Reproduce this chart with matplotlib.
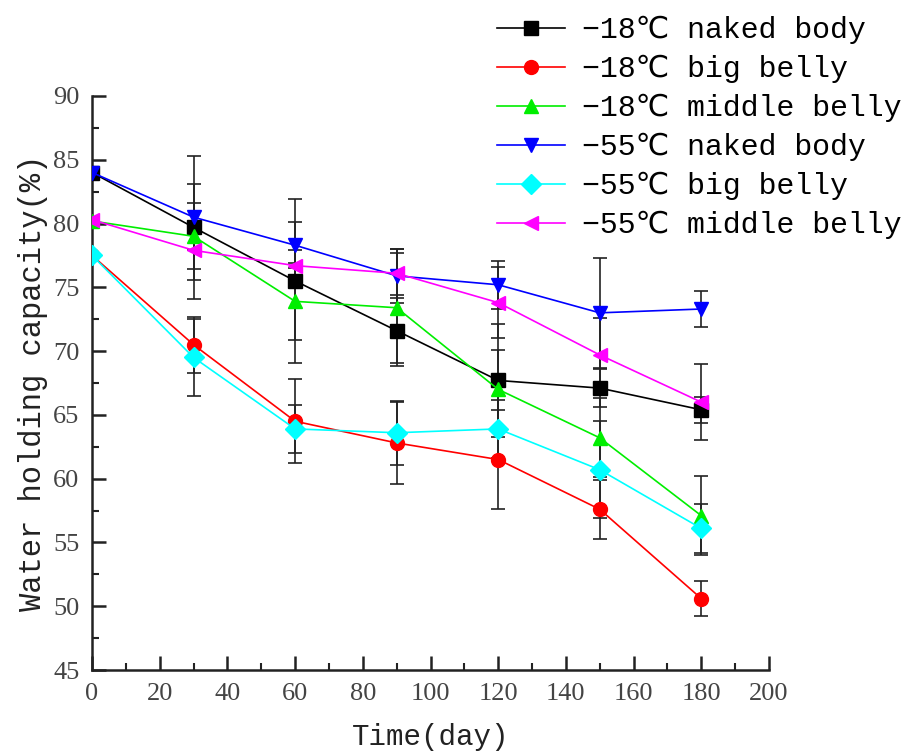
import matplotlib
matplotlib.use('Agg')
import matplotlib.pyplot as plt
from matplotlib.ticker import MultipleLocator

days = [0, 30, 60, 90, 120, 150, 180]

labels = ['−18℃ naked body', '−18℃ big belly', '−18℃ middle belly',
          '−55℃ naked body', '−55℃ big belly', '−55℃ middle belly']
colors = ['black', 'red', '#00ee00', 'blue', 'cyan', 'magenta']
markers = ['s', 'o', '^', 'v', 'D', '<']

n18_naked = [84.0, 79.7, 75.5, 71.6, 67.7, 67.1, 65.4]
n18_big = [77.5, 70.5, 64.5, 62.8, 61.5, 57.6, 50.6]
n18_middle = [80.2, 79.0, 73.9, 73.4, 67.0, 63.2, 57.1]
n55_naked = [84.0, 80.5, 78.3, 75.9, 75.2, 73.0, 73.3]
n55_big = [77.5, 69.5, 63.9, 63.6, 63.9, 60.7, 56.1]
n55_middle = [80.3, 77.9, 76.7, 76.1, 73.8, 69.7, 66.0]

err18_naked = [0, 5.6, 6.4, 2.8, 4.4, 1.5, 1.0]
err18_big = [0, 2.2, 3.3, 3.2, 3.9, 2.3, 1.4]
err18_middle = [0, 2.6, 3.0, 4.3, 3.1, 3.1, 3.1]
err55_naked = [0, 2.6, 1.8, 2.1, 1.9, 4.3, 1.4]
err55_big = [0, 3.0, 1.9, 2.5, 2.3, 3.8, 1.9]
err55_middle = [0, 2.3, 1.2, 1.9, 2.8, 2.9, 3.0]

series = [n18_naked, n18_big, n18_middle, n55_naked, n55_big, n55_middle]
errors = [err18_naked, err18_big, err18_middle, err55_naked, err55_big, err55_middle]

mono = ['Liberation Mono', 'DejaVu Sans Mono', 'DejaVu Sans']

fig = plt.figure(figsize=(9.05, 7.54), dpi=100)
ax = fig.add_axes([0.1017, 0.1114, 0.748, 0.7613])

# error bars first, markers/lines on top
for vals, err in zip(series, errors):
    ax.errorbar(days, vals, yerr=err, fmt='none', ecolor='#222222',
                elinewidth=1.2, capsize=5, capthick=1.2, zorder=2)

handles = []
for vals, lab, col, mk in zip(series, labels, colors, markers):
    h, = ax.plot(days, vals, color=col, marker=mk, markersize=10,
                 linewidth=1.2, label=lab, zorder=3)
    handles.append(h)

ax.set_xlim(0, 200)
ax.set_ylim(45, 90)
ax.xaxis.set_major_locator(MultipleLocator(20))
ax.xaxis.set_minor_locator(MultipleLocator(10))
ax.yaxis.set_major_locator(MultipleLocator(5))
ax.yaxis.set_minor_locator(MultipleLocator(2.5))

ax.spines['top'].set_visible(False)
ax.spines['right'].set_visible(False)
for s in ['left', 'bottom']:
    ax.spines[s].set_linewidth(1.8)
    ax.spines[s].set_color('#222222')

ax.tick_params(which='major', direction='in', length=10, width=1.8,
               color='#222222', labelsize=19, pad=9)
ax.tick_params(which='minor', direction='in', length=5, width=1.5,
               color='#222222')
for t in ax.get_xticklabels() + ax.get_yticklabels():
    t.set_fontfamily('Liberation Serif')
    t.set_color('#444444')

ax.set_xlabel('Time(day)', fontsize=21, family=mono, color='#222222', labelpad=13)
ax.set_ylabel('Water holding capacity(%)', fontsize=22, family=mono,
              color='#222222', labelpad=4)

fig.legend(handles=handles, loc='upper right', bbox_to_anchor=(1.009, 0.995),
           frameon=False, prop={'family': mono, 'size': 21.5},
           handlelength=2.3, handletextpad=0.55, labelspacing=0.36,
           borderaxespad=0)

fig.savefig('out.png', dpi=100)
